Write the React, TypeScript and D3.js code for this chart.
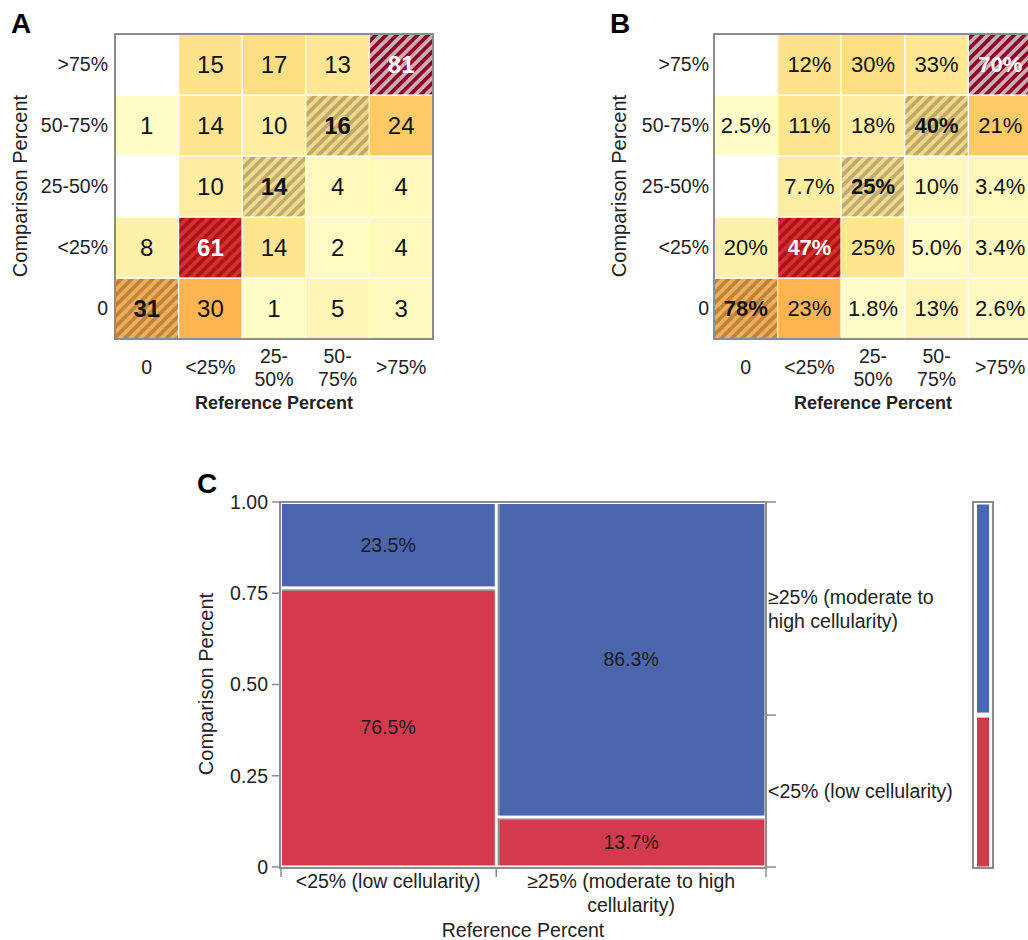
import React from "react";
import * as d3 from "d3";

// ---------- Data (panels A & B) ----------
const refCats = ["0", "<25%", "25-50%", "50-75%", ">75%"];
const refTickLines = [["0"], ["<25%"], ["25-", "50%"], ["50-", "75%"], [">75%"]];
const compCats = ["0", "<25%", "25-50%", "50-75%", ">75%"]; // bottom -> top

// counts, one array per comparison row, values per reference column
const countRow0 = [31, 30, 1, 5, 3];
const countRowLt25 = [8, 61, 14, 2, 4];
const countRow25to50 = [0, 10, 14, 4, 4];
const countRow50to75 = [1, 14, 10, 16, 24];
const countRowGt75 = [0, 15, 17, 13, 81];

// column percentages shown in panel B
const pctRow0 = ["78%", "23%", "1.8%", "13%", "2.6%"];
const pctRowLt25 = ["20%", "47%", "25%", "5.0%", "3.4%"];
const pctRow25to50 = ["", "7.7%", "25%", "10%", "3.4%"];
const pctRow50to75 = ["2.5%", "11%", "18%", "40%", "21%"];
const pctRowGt75 = ["", "12%", "30%", "33%", "70%"];

// ---------- Data (panel C) ----------
const mosaicRefTickLines = [["<25% (low cellularity)"], ["≥25% (moderate to high", "cellularity)"]];
const mosaicCompLow = [130, 29]; // comparison <25%
const mosaicCompHigh = [40, 183]; // comparison >=25%
const mosaicCompLabelLines = [["<25% (low cellularity)"], ["≥25% (moderate to", "high cellularity)"]];
const mosaicYTicks = [0, 0.25, 0.5, 0.75, 1];
const mosaicYTickLabels = ["0", "0.25", "0.50", "0.75", "1.00"];

const countRows = [countRow0, countRowLt25, countRow25to50, countRow50to75, countRowGt75];
const pctRows = [pctRow0, pctRowLt25, pctRow25to50, pctRow50to75, pctRowGt75];

const FONT = "'Liberation Sans', Arial, Helvetica, sans-serif";
const GRAY = "#8c8c8c";
const BLUE = "#4c66ad";
const RED = "#d33b4d";

const maxCount = d3.max(countRows.flat()) as number;
const color = d3.scaleSequential(d3.interpolateYlOrRd).domain([0, maxCount]);

function Heatmap({ prefix, left, letter, letterX, labelRight, titleX, texts, textSize }: any) {
  const x = d3.scaleBand().domain(refCats).range([left, left + 318]);
  const y = d3.scaleBand().domain(compCats).range([339, 34]);
  const patterns: any[] = [];
  const cells: any[] = [];
  const P = 7.4;
  countRows.forEach((row, i) => {
    row.forEach((v, j) => {
      const cx = x(refCats[j]) as number;
      const cy = y(compCats[i]) as number;
      const diag = i === j;
      const base = v > 0 ? color(v) : "#ffffff";
      let fill: string = base as string;
      if (diag && v > 0) {
        const pid = `${prefix}-hatch-${j}`;
        let bg: string, stripe: string;
        if (v === maxCount) {
          bg = "#c9b1b3";
          stripe = (d3.color(base) as any).brighter(0.35).formatHex();
        } else {
          bg = d3.interpolateRgb(base, "#9a9a9a")(0.14);
          stripe = (d3.color(base) as any).darker(0.8).formatHex();
        }
        patterns.push(
          <pattern key={pid} id={pid} patternUnits="userSpaceOnUse" width={P} height={P}
            patternTransform="rotate(45)">
            <rect x={0} y={0} width={P} height={P} fill={bg} />
            <rect x={0} y={0} width={P / 2} height={P} fill={stripe} />
          </pattern>
        );
        fill = `url(#${pid})`;
      }
      cells.push(
        <rect key={`c-${i}-${j}`} x={cx} y={cy} width={x.bandwidth()} height={y.bandwidth()}
          fill={fill} stroke="#ffffff" strokeWidth={1.2} />
      );
      const t = texts[i][j];
      if (t !== "" && v > 0) {
        cells.push(
          <text key={`t-${i}-${j}`} x={cx + x.bandwidth() / 2} y={cy + y.bandwidth() / 2} dy="0.36em"
            textAnchor="middle" fontSize={textSize} fontWeight={diag ? "bold" : "normal"}
            fill={v >= 50 ? "#ffffff" : "#111111"}>{t}</text>
        );
      }
    });
  });
  return (
    <g fontFamily={FONT}>
      <defs>{patterns}</defs>
      <text x={letterX} y={33} fontSize={28} fontWeight="bold" fill="#000">{letter}</text>
      {cells}
      <rect x={left} y={34} width={318} height={305} fill="none" stroke={GRAY} strokeWidth={2} />
      {compCats.map((c) => (
        <text key={`yl-${c}`} x={labelRight} y={(y(c) as number) + y.bandwidth() / 2} dy="0.35em"
          textAnchor="end" fontSize={19.5} fill="#222">{c}</text>
      ))}
      {refTickLines.map((lines, j) => {
        const cx = (x(refCats[j]) as number) + x.bandwidth() / 2;
        if (lines.length === 1) {
          return <text key={`xl-${j}`} x={cx} y={374} textAnchor="middle" fontSize={19.5} fill="#222">{lines[0]}</text>;
        }
        return (
          <text key={`xl-${j}`} x={cx} textAnchor="middle" fontSize={19.5} fill="#222">
            <tspan x={cx} y={363}>{lines[0]}</tspan>
            <tspan x={cx} y={386}>{lines[1]}</tspan>
          </text>
        );
      })}
      <text x={left + 159} y={409} textAnchor="middle" fontSize={18} fontWeight="bold" fill="#222">Reference Percent</text>
      <text transform={`translate(${titleX},186) rotate(-90)`} textAnchor="middle" fontSize={20} fill="#222">Comparison Percent</text>
    </g>
  );
}

function Mosaic() {
  const totals = mosaicCompLow.map((v, i) => v + mosaicCompHigh[i]);
  const grand = d3.sum(totals);
  const starts = [0, ...Array.from(d3.cumsum(totals))];
  const x = d3.scaleLinear().domain([0, grand]).range([280, 766]);
  const y = d3.scaleLinear().domain([0, 1]).range([867, 502]);
  const fmt = d3.format(".1%");
  const overallLow = d3.sum(mosaicCompLow) / grand;

  const cellEls: any[] = [];
  const drawCell = (key: string, x0: number, x1: number, yTop: number, yBot: number, fill: string, label: string) => {
    const innerLeft = x0 > 282;
    const innerTop = yTop > 504;
    const rx = x0 + (innerLeft ? 3 : 2);
    const ry = yTop + (innerTop ? 3 : 2);
    const rw = x1 - 1.5 - rx;
    const rh = yBot - 1.5 - ry;
    if (innerLeft) cellEls.push(<rect key={key + "-sl"} x={rx - 1.6} y={ry - (innerTop ? 1.6 : 0)} width={1.6} height={rh + (innerTop ? 1.6 : 0)} fill="#8f8f8f" />);
    if (innerTop) cellEls.push(<rect key={key + "-st"} x={rx - (innerLeft ? 1.6 : 0)} y={ry - 1.6} width={rw + (innerLeft ? 1.6 : 0)} height={1.6} fill="#8f8f8f" />);
    cellEls.push(<rect key={key} x={rx} y={ry} width={rw} height={rh} fill={fill} />);
    cellEls.push(
      <text key={key + "-t"} x={(x0 + x1) / 2} y={(yTop + yBot) / 2} dy="0.35em" textAnchor="middle"
        fontSize={19.5} fill="#1a1a1a">{label}</text>
    );
  };
  totals.forEach((tot, i) => {
    const x0 = x(starts[i]);
    const x1 = x(starts[i] + tot);
    const pLow = mosaicCompLow[i] / tot;
    drawCell(`hi-${i}`, x0, x1, y(1), y(pLow), BLUE, fmt(mosaicCompHigh[i] / tot));
    drawCell(`lo-${i}`, x0, x1, y(pLow), y(0), RED, fmt(pLow));
  });

  const rightTicks = [1, overallLow, 0];
  const rightMids = [(y(1) + y(overallLow)) / 2, (y(overallLow) + y(0)) / 2];
  const legendLines = [mosaicCompLabelLines[1], mosaicCompLabelLines[0]];

  return (
    <g fontFamily={FONT} fill="#222">
      <text x={197} y={493} fontSize={28} fontWeight="bold" fill="#000">C</text>
      {cellEls}
      <rect x={280} y={502} width={486} height={366} fill="none" stroke={GRAY} strokeWidth={2} />
      {mosaicYTicks.map((t, i) => (
        <g key={`yt-${i}`}>
          <line x1={272} x2={280} y1={y(t)} y2={y(t)} stroke={GRAY} strokeWidth={1.5} />
          <text x={268} y={y(t)} dy="0.35em" textAnchor="end" fontSize={19.5} fill="#222">{mosaicYTickLabels[i]}</text>
        </g>
      ))}
      {starts.map((s, i) => (
        <line key={`bt-${i}`} x1={x(s) + (i === 0 ? 1 : 0)} x2={x(s) + (i === 0 ? 1 : 0)} y1={868} y2={877} stroke={GRAY} strokeWidth={1.5} />
      ))}
      {rightTicks.map((t, i) => (
        <line key={`rt-${i}`} x1={766} x2={776} y1={y(t)} y2={y(t)} stroke={GRAY} strokeWidth={1.5} />
      ))}
      {mosaicRefTickLines.map((lines, i) => {
        const cx = (x(starts[i]) + x(starts[i] + totals[i])) / 2;
        return (
          <text key={`xl-${i}`} textAnchor="middle" fontSize={19.5} fill="#222">
            {lines.map((l, k) => (
              <tspan key={k} x={cx} y={888 + k * 24}>{l}</tspan>
            ))}
          </text>
        );
      })}
      {legendLines.map((lines, i) => (
        <text key={`rl-${i}`} fontSize={19.5} fill="#222">
          {lines.map((l, k) => (
            <tspan key={k} x={768} y={rightMids[i] + 7 - (lines.length - 1) * 12 + k * 24}>{l}</tspan>
          ))}
        </text>
      ))}
      <text x={523} y={937} textAnchor="middle" fontSize={19.5} fill="#222">Reference Percent</text>
      <text transform="translate(213,684) rotate(-90)" textAnchor="middle" fontSize={20} fill="#222">Comparison Percent</text>
      <rect x={973} y={502} width={20} height={366} fill="#fff" stroke={GRAY} strokeWidth={2} />
      <rect x={977} y={y(1) + 2.5} width={12} height={y(overallLow) - y(1) - 5} fill={BLUE} />
      <rect x={977} y={y(overallLow) + 2.5} width={12} height={y(0) - y(overallLow) - 3} fill={RED} />
    </g>
  );
}

export default function App() {
  return (
    <svg width={1028} height={940} viewBox="0 0 1028 940"
      style={{ position: "absolute", left: 0, top: 0, background: "#fff" }}>
      <rect x={0} y={0} width={1028} height={940} fill="#fff" />
      <Heatmap prefix="a" left={115} letter="A" letterX={11} labelRight={108} titleX={26.5}
        texts={countRows.map((r) => r.map((v) => (v > 0 ? String(v) : "")))} textSize={24} />
      <Heatmap prefix="b" left={714} letter="B" letterX={610} labelRight={709} titleX={625.5}
        texts={pctRows} textSize={22} />
      <Mosaic />
    </svg>
  );
}
